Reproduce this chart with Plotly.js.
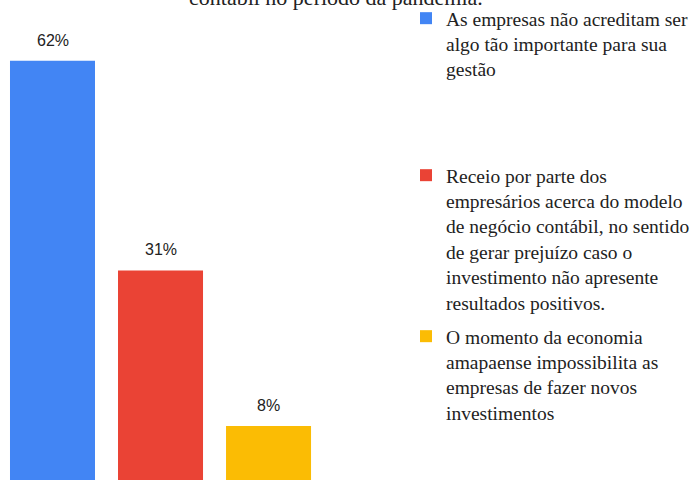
<!DOCTYPE html>
<html><head><meta charset="utf-8">
<script src="https://cdn.plot.ly/plotly-3.0.1.min.js"></script>
<style>html,body{margin:0;padding:0;background:#fff}</style>
</head><body><div id="chart" style="width:694px;height:480px"></div>
<script>
const categories = ["A", "B", "C"];
const seriesNames = [
  "As empresas não acreditam ser<br>algo tão importante para sua<br>gestão",
  "Receio por parte dos<br>empresários acerca do modelo<br>de negócio contábil, no sentido<br>de gerar prejuízo caso o<br>investimento não apresente<br>resultados positivos.",
  "O momento da economia<br>amapaense impossibilita as<br>empresas de fazer novos<br>investimentos"
];
const values = [62, 31, 8];
const labels = ["62%", "31%", "8%"];
const colors = ["#4285F4", "#EA4335", "#FBBC04"];
const titleTail = "contábil no período da pandemia.";

const SERIF = "Liberation Serif";
const legendNames = ["legend", "legend2", "legend3"];
const traces = categories.map((c, i) => ({
  type: "bar",
  x: [c],
  y: [values[i]],
  name: seriesNames[i],
  marker: {color: colors[i]},
  legend: legendNames[i],
  hoverinfo: "none"
}));

const legendTops = [-1, 156, 317];
const layout = {
  width: 694, height: 480,
  margin: {l: 0, r: 0, t: 0, b: 0, autoexpand: false},
  font: {family: SERIF, size: 19.5, color: "#222"},
  paper_bgcolor: "#fff", plot_bgcolor: "#fff",
  barmode: "group", bargap: 0.213,
  showlegend: true,
  xaxis: {domain: [0, 330/694], range: [-0.486, 2.569], visible: false, fixedrange: true, type: "category"},
  yaxis: {range: [0, 71], visible: false, fixedrange: true},
  annotations: categories.map((c, i) => ({
    x: c, y: values[i], xref: "x", yref: "y", text: labels[i], showarrow: false,
    yanchor: "bottom", yshift: 10,
    font: {family: "Liberation Sans", size: 16, color: "#222"}
  })).concat([{
    xref: "paper", yref: "paper", x: 336/694, y: 1, xanchor: "center", yanchor: "bottom",
    yshift: -12, showarrow: false, text: titleTail,
    font: {family: SERIF, size: 22, color: "#222"}
  }])
};
legendNames.forEach((ln, i) => {
  layout[ln] = {
    xref: "paper", yref: "paper", xanchor: "left", yanchor: "top",
    x: 406/694, y: 1 - legendTops[i]/480,
    font: {family: SERIF, size: 19.5, color: "#222"},
    valign: "top", bgcolor: "rgba(0,0,0,0)", borderwidth: 0, itemwidth: 30
  };
});
Plotly.newPlot("chart", traces, layout, {displayModeBar: false, staticPlot: true});
</script></body></html>
